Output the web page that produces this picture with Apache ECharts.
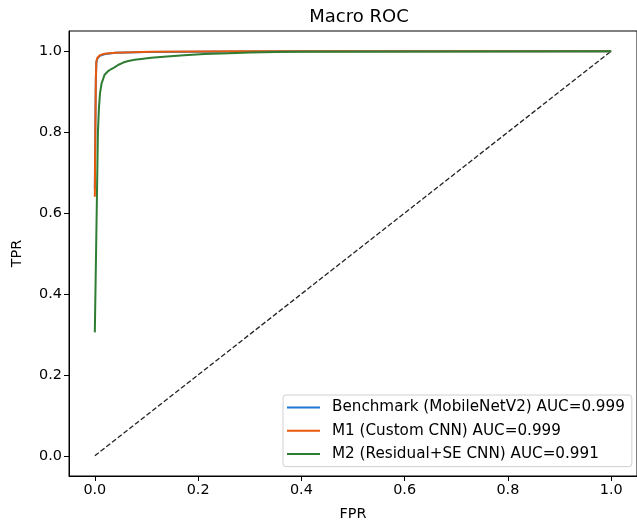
<!DOCTYPE html>
<html>
<head>
<meta charset="utf-8">
<script src="https://cdn.jsdelivr.net/npm/echarts@6/dist/echarts.min.js"></script>
<style>
  html, body { margin: 0; padding: 0; background: #fff; }
  #chart { width: 637px; height: 526px; }
</style>
</head>
<body>
<div id="chart"></div>
<script>
// macro ROC curves
const seriesNames = [
    'Benchmark (MobileNetV2) AUC=0.999',
    'M1 (Custom CNN) AUC=0.999',
    'M2 (Residual+SE CNN) AUC=0.991'
];
const colors = ['#1f77d4', '#e8590c', '#2e7d32'];

const benchFpr = [0, 0.001, 0.002, 0.003, 0.005, 0.01, 0.02, 0.04, 0.1, 0.2, 0.3, 0.4, 1.0];
const benchTpr = [0.66, 0.82, 0.93, 0.972, 0.982, 0.989, 0.993, 0.996, 0.998, 0.999, 0.9995, 1.0, 1.0];

const m1Fpr = [0, 0.001, 0.002, 0.003, 0.005, 0.01, 0.019, 0.04, 0.109, 0.2, 0.3, 1.0];
const m1Tpr = [0.64, 0.8, 0.93, 0.975, 0.984, 0.99, 0.994, 0.996, 0.999, 0.9995, 1.0, 1.0];

const m2Fpr = [0, 0.003, 0.006, 0.008, 0.01, 0.013, 0.019, 0.025, 0.032, 0.038, 0.045, 0.055, 0.065,
    0.077, 0.09, 0.109, 0.14, 0.173, 0.212, 0.26, 0.3, 0.35, 0.4, 1.0];
const m2Tpr = [0.305, 0.55, 0.8, 0.86, 0.895, 0.92, 0.942, 0.95, 0.956, 0.96, 0.966, 0.972, 0.976,
    0.979, 0.981, 0.984, 0.987, 0.99, 0.993, 0.995, 0.997, 0.998, 0.999, 1.0];

const diagFpr = [0, 1];
const diagTpr = [0, 1];

const tickValues = [0, 0.2, 0.4, 0.6, 0.8, 1.0];

function zipPts(xs, ys){
    return xs.map((x, i) => [x, ys[i]]);
}

let chart = echarts.init(document.getElementById('chart'));
const font = 'DejaVu Sans';

function lineSeries(name, xs, ys, color){
    return {
        name: name,
        type: 'line',
        data: zipPts(xs, ys),
        showSymbol: false,
        symbol: 'none',
        lineStyle: { color: color, width: 2 },
        itemStyle: { color: color },
        animation: false
    };
}

function axisCommon(name, gap, rotate){
    return {
        type: 'value',
        min: -0.05,
        max: 1.05,
        name: name,
        nameLocation: 'middle',
        nameGap: gap,
        nameRotate: rotate,
        nameTextStyle: { fontFamily: font, fontSize: 14.4, color: '#000' },
        axisLine: { show: true, onZero: false, lineStyle: { color: '#000', width: 1 } },
        axisTick: { show: true, inside: false, length: 5, customValues: tickValues,
            lineStyle: { color: '#000', width: 1 } },
        axisLabel: { customValues: tickValues, fontFamily: font, fontSize: 14.4, color: '#000',
            margin: 7, formatter: v => v.toFixed(1) },
        splitLine: { show: false }
    };
}

let option = {
    backgroundColor: '#fff',
    animation: false,
    title: {
        text: 'Macro ROC',
        left: 354,
        top: 3,
        textAlign: 'center',
        textStyle: { fontFamily: font, fontSize: 18, fontWeight: 'normal', color: '#000' }
    },
    grid: {
        left: 69, top: 31, width: 571, height: 446,
        show: true, borderColor: '#000', borderWidth: 1, backgroundColor: 'transparent'
    },
    xAxis: axisCommon('FPR', 31, 0),
    yAxis: axisCommon('TPR', 45, 90),
    legend: {
        data: seriesNames,
        orient: 'vertical',
        left: 283,
        top: 395,
        icon: 'rect',
        itemWidth: 33,
        itemHeight: 2,
        itemGap: 6.3,
        padding: [4, 7, 4, 4],
        backgroundColor: 'rgba(255,255,255,0.8)',
        borderColor: '#d0d0d0',
        borderWidth: 1,
        borderRadius: 3,
        textStyle: { fontFamily: font, fontSize: 15.2, color: '#000', lineHeight: 17,
            padding: [0, 0, 0, 7] }
    },
    series: [
        lineSeries(seriesNames[0], benchFpr, benchTpr, colors[0]),
        lineSeries(seriesNames[1], m1Fpr, m1Tpr, colors[1]),
        lineSeries(seriesNames[2], m2Fpr, m2Tpr, colors[2]),
        {
            name: 'chance',
            type: 'line',
            data: zipPts(diagFpr, diagTpr),
            showSymbol: false,
            symbol: 'none',
            lineStyle: { color: '#222', width: 1.3, type: [5, 2.3] },
            z: 1
        }
    ]
};

chart.setOption(option);
</script>
</body>
</html>
